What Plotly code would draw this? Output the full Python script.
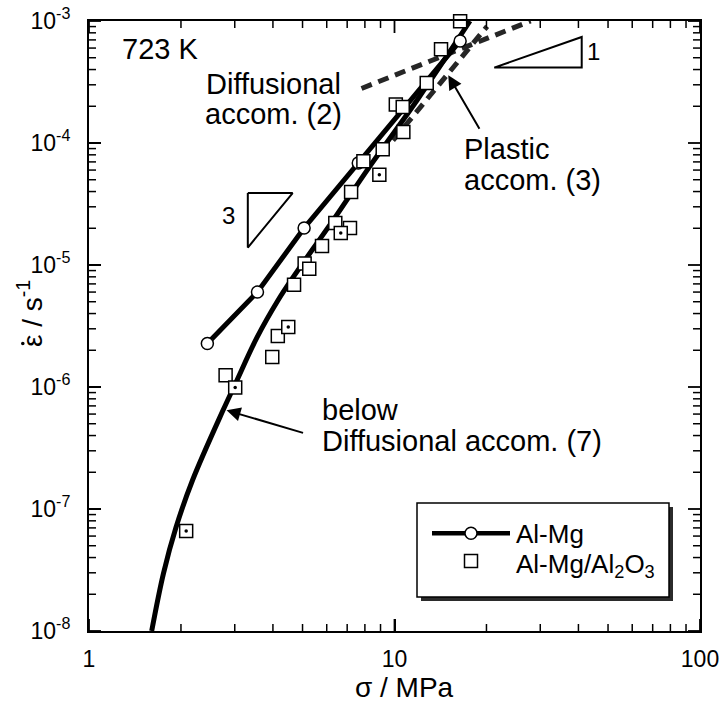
import math
import plotly.graph_objects as go

# ---------------- data ----------------
# Al-Mg : open circles joined by a thick line
sig_almg = [2.44, 3.56, 5.06, 7.61, 16.4]
eps_almg = [2.27e-6, 6.01e-6, 2.01e-5, 6.85e-5, 6.86e-4]

# Al-Mg/Al2O3 : open squares
sig_comp = [2.80, 3.98, 4.15, 4.69, 5.08, 5.26, 5.79, 6.40, 7.15, 7.21, 7.91,
            9.15, 10.1, 10.64, 10.69, 12.75, 14.2, 16.4]
eps_comp = [1.25e-6, 1.76e-6, 2.62e-6, 6.9e-6, 1.03e-5, 9.3e-6, 1.43e-5, 2.21e-5,
            2.01e-5, 3.96e-5, 7.08e-5, 8.87e-5, 2.07e-4, 1.97e-4, 1.23e-4, 3.1e-4,
            5.86e-4, 9.95e-4]
# Al-Mg/Al2O3 : squares with a centre dot
sig_comp_dot = [2.08, 3.01, 4.49, 6.67, 8.92]
eps_comp_dot = [6.6e-8, 9.9e-7, 3.1e-6, 1.83e-5, 5.5e-5]

# model curve: below diffusional accommodation (7)
sig_m7 = [1.604, 1.753, 1.927, 2.182, 2.746, 3.017, 3.548, 4.157, 4.654, 6.292,
          8.128, 11.85, 17.67]
eps_m7 = [1.0e-8, 2.97e-8, 7.08e-8, 1.72e-7, 6.44e-7, 1.07e-6, 2.55e-6, 5.14e-6,
          7.92e-6, 2.32e-5, 5.97e-5, 2.24e-4, 1.0e-3]

# diffusional accommodation (2), dashed
sig_m2 = [7.8, 27.9]
eps_m2 = [2.8e-4, 1.0e-3]
# plastic accommodation (3), dashed
sig_m3 = [9.89, 20.1]
eps_m3 = [1.05e-4, 9.05e-4]

# slope triangles
tri3_sig = [3.31, 4.64, 3.31, 3.31]
tri3_eps = [3.89e-5, 3.89e-5, 1.39e-5, 3.89e-5]
tri1_sig = [21.2, 41.0, 41.0, 21.2]
tri1_eps = [4.15e-4, 7.4e-4, 4.15e-4, 4.15e-4]

x_tickvals = [1, 10, 100]
x_ticktext = ["1", "10", "100"]
y_tickvals = [1e-8, 1e-7, 1e-6, 1e-5, 1e-4, 1e-3]
y_ticktext = ["10<sup>-8</sup>", "10<sup>-7</sup>", "10<sup>-6</sup>",
              "10<sup>-5</sup>", "10<sup>-4</sup>", "10<sup>-3</sup>"]

# minor tick positions (2..9 in every decade)
x_minor = [m * 10 ** d for d in range(0, 2) for m in range(2, 10)]
y_minor = [m * 10.0 ** d for d in range(-8, -3) for m in range(2, 10)]

X_RANGE = [0, 2]
Y_RANGE = [-8, -3]

# ---------------- layout geometry ----------------
W_FIG, H_FIG = 727, 706
L, R, T, B = 89, 27, 21, 75
PW, PH = W_FIG - L - R, H_FIG - T - B
FONT = "Liberation Sans, Arial, Helvetica, sans-serif"


def px(X):
    return (X - L) / PW


def py(Y):
    return (T + PH - Y) / PH


def xfrac(v):
    return (math.log10(v) - X_RANGE[0]) / (X_RANGE[1] - X_RANGE[0])


def yfrac(v):
    return (math.log10(v) - Y_RANGE[0]) / (Y_RANGE[1] - Y_RANGE[0])


fig = go.Figure()

# dashed model lines
for xs, ys in ((sig_m2, eps_m2), (sig_m3, eps_m3)):
    fig.add_trace(go.Scatter(x=xs, y=ys, mode="lines",
                             line=dict(color="#262626", width=5, dash="11px,7px"),
                             showlegend=False, hoverinfo="skip"))
# solid model curve (7)
fig.add_trace(go.Scatter(x=sig_m7, y=eps_m7, mode="lines",
                         line=dict(color="black", width=5, shape="spline", smoothing=1.0),
                         showlegend=False, hoverinfo="skip"))
# Al-Mg
fig.add_trace(go.Scatter(x=sig_almg, y=eps_almg, mode="lines+markers", name="Al-Mg",
                         line=dict(color="black", width=5),
                         marker=dict(symbol="circle", size=12, color="white",
                                     line=dict(color="black", width=1.5)),
                         showlegend=False, cliponaxis=False))
# Al-Mg/Al2O3
fig.add_trace(go.Scatter(x=sig_comp, y=eps_comp, mode="markers", name="Al-Mg/Al2O3",
                         marker=dict(symbol="square", size=13, color="white",
                                     line=dict(color="black", width=1.5)),
                         showlegend=False, cliponaxis=False))
fig.add_trace(go.Scatter(x=sig_comp_dot, y=eps_comp_dot, mode="markers",
                         marker=dict(symbol="square", size=13, color="white",
                                     line=dict(color="black", width=1.5)),
                         showlegend=False, cliponaxis=False))
fig.add_trace(go.Scatter(x=sig_comp_dot, y=eps_comp_dot, mode="markers",
                         marker=dict(symbol="circle", size=3.5, color="black"),
                         showlegend=False, cliponaxis=False))
# slope triangles
for xs, ys in ((tri3_sig, tri3_eps), (tri1_sig, tri1_eps)):
    fig.add_trace(go.Scatter(x=xs, y=ys, mode="lines",
                             line=dict(color="black", width=2),
                             showlegend=False, hoverinfo="skip"))

axis_common = dict(
    showline=True, linecolor="black", linewidth=2, mirror=True,
    ticks="inside", ticklen=12, tickwidth=1.8, tickcolor="black",
    showgrid=False, zeroline=False,
    tickfont=dict(family=FONT, size=23, color="black"),
)
fig.update_layout(
    xaxis=dict(type="log", range=X_RANGE, tickmode="array", tickvals=x_tickvals,
               ticktext=x_ticktext, ticklabelstandoff=6, **axis_common),
    yaxis=dict(type="log", range=Y_RANGE, tickmode="array", tickvals=y_tickvals,
               ticktext=y_ticktext, ticklabelstandoff=12, **axis_common),
)

shapes = []
# tick marks on all four sides (inside), drawn in paper coordinates
MAJ, MIN = 12, 7
for vals, ln, w in ((x_tickvals, MAJ, 1.8), (x_minor, MIN, 1.5)):
    for v in vals:
        f = xfrac(v)
        for y0, y1 in ((0, ln / PH), (1 - ln / PH, 1)):
            shapes.append(dict(type="line", xref="paper", yref="paper",
                               x0=f, x1=f, y0=y0, y1=y1,
                               line=dict(color="black", width=w)))
for vals, ln, w in ((y_tickvals, MAJ, 1.8), (y_minor, MIN, 1.5)):
    for v in vals:
        f = yfrac(v)
        for x0, x1 in ((0, ln / PW), (1 - ln / PW, 1)):
            shapes.append(dict(type="line", xref="paper", yref="paper",
                               x0=x0, x1=x1, y0=f, y1=f,
                               line=dict(color="black", width=w)))

ann = []


def text(s, X, Y, size=29, xanchor="left", angle=0):
    ann.append(dict(text=s, x=px(X), y=py(Y), xref="paper", yref="paper",
                    xanchor=xanchor, yanchor="middle", showarrow=False,
                    textangle=angle,
                    font=dict(family=FONT, size=size, color="black")))


text("723 K", 120, 48.5)
text("Diffusional", 204, 84)
text("accom. (2)", 203, 114.5)
text("Plastic", 462, 149)
text("accom. (3)", 462, 179.5)
text("below", 320, 409.5)
text("Diffusional accom. (7)", 320, 441)
text("3", 228.5, 215, size=24, xanchor="center")
text("1", 593.5, 51.5, size=24, xanchor="center")
text("\u03c3 / MPa", 404, 687, size=28, xanchor="center")
text("\u03b5 / s<sup>-1</sup>", 30, 314, size=28, xanchor="center", angle=-90)

# arrows
ann.append(dict(x=math.log10(2.82), y=math.log10(6.44e-7), xref="x", yref="y",
                ax=78, ay=23, text="", showarrow=True, arrowhead=2, arrowsize=1.4,
                arrowwidth=2, arrowcolor="black"))
ann.append(dict(x=math.log10(15.0), y=math.log10(3.59e-4), xref="x", yref="y",
                ax=32, ay=55, text="", showarrow=True, arrowhead=2, arrowsize=1.4,
                arrowwidth=2, arrowcolor="black"))

# dot above the epsilon of the rotated y title (rate symbol)
shapes.append(dict(type="circle", xref="paper", yref="paper",
                   x0=px(21), x1=px(24.6), y0=py(345.3), y1=py(341.7),
                   fillcolor="black", line=dict(width=0)))

# manual legend box with drop shadow
LX0, LY0, LX1, LY1 = 417, 503, 669, 597
shapes.append(dict(type="rect", xref="paper", yref="paper",
                   x0=px(LX0 + 4), x1=px(LX1 + 4), y0=py(LY1 + 4), y1=py(LY0 + 4),
                   fillcolor="#2b2b2b", line=dict(width=0)))
shapes.append(dict(type="rect", xref="paper", yref="paper",
                   x0=px(LX0), x1=px(LX1), y0=py(LY1), y1=py(LY0),
                   fillcolor="white", line=dict(color="black", width=1.5)))
shapes.append(dict(type="line", xref="paper", yref="paper",
                   x0=px(432), x1=px(510), y0=py(533.3), y1=py(533.3),
                   line=dict(color="black", width=4.5)))
shapes.append(dict(type="circle", xref="paper", yref="paper",
                   x0=px(471 - 6), x1=px(471 + 6), y0=py(533.3 + 6), y1=py(533.3 - 6),
                   fillcolor="white", line=dict(color="black", width=1.5)))
shapes.append(dict(type="rect", xref="paper", yref="paper",
                   x0=px(471 - 6.5), x1=px(471 + 6.5), y0=py(561 + 6.5), y1=py(561 - 6.5),
                   fillcolor="white", line=dict(color="black", width=1.5)))
text("Al-Mg", 514, 533.5, size=26)
text("Al-Mg/Al<sub>2</sub>O<sub>3</sub>", 514, 565, size=26)

fig.update_layout(
    width=W_FIG, height=H_FIG,
    margin=dict(l=L, r=R, t=T, b=B, autoexpand=False),
    paper_bgcolor="white", plot_bgcolor="white",
    showlegend=False,
    annotations=ann, shapes=shapes,
    font=dict(family=FONT, color="black"),
)

fig.write_html("out.html")
